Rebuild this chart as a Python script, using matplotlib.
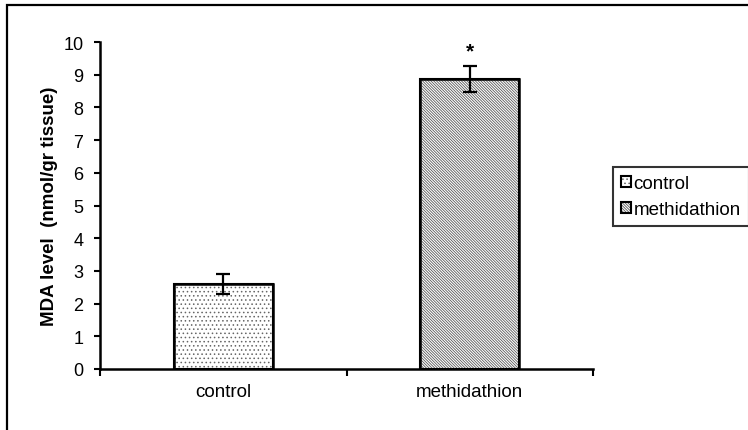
import matplotlib.pyplot as plt
from matplotlib.patches import Rectangle

plt.rcParams['font.family'] = ['Liberation Sans', 'DejaVu Sans']
plt.rcParams['hatch.linewidth'] = 0.6

categories = ['control', 'methidathion']
mda_values = [2.6, 8.87]
mda_errors = [0.3, 0.4]
significance = ['', '*']

fig = plt.figure(figsize=(7.48, 4.31), dpi=100)
ax = fig.add_axes([100 / 748, 1 - 370 / 431, 493 / 748, 327 / 431])

# cadre autour de la figure (coupé à droite et en bas)
fig.patches.append(Rectangle((7 / 748, -0.2), 1.2, 1 - 6 / 431 + 0.2, transform=fig.transFigure,
                             fill=False, edgecolor='black', linewidth=1.6))

x = [0.5, 1.5]
hatches = ['....', '\\' * 12]
hatch_colors = [(0.4, 0.4, 0.4, 1.0), (0.35, 0.35, 0.35, 1.0)]
for i in range(len(categories)):
    b = ax.bar(x[i], mda_values[i], width=0.4, color='white', edgecolor='black',
               linewidth=1.5, hatch=hatches[i], label=categories[i], zorder=2)
    b[0]._hatch_color = hatch_colors[i]
    ax.bar(x[i], mda_values[i], width=0.4, fill=False, edgecolor='black',
           linewidth=1.8, zorder=3)
    ax.errorbar(x[i], mda_values[i], yerr=mda_errors[i], fmt='none', ecolor='black',
                elinewidth=1.6, capsize=5, capthick=1.6, zorder=4)
    if significance[i]:
        ax.text(x[i], mda_values[i] + mda_errors[i] + 0.45, significance[i],
                ha='center', va='center', fontsize=15, fontweight='bold')

ax.set_xlim(0, 2)
ax.set_ylim(0, 10)
ax.set_yticks(range(0, 11))
ax.tick_params(axis='y', labelsize=13, width=1.5, length=4, direction='out', pad=8)
ax.set_xticks([0, 1, 2])
ax.set_xticklabels([])
ax.set_xticks(x, minor=True)
ax.set_xticklabels(categories, minor=True)
ax.tick_params(axis='x', which='major', width=1.5, length=5, direction='out')
ax.tick_params(axis='x', which='minor', length=0, labelsize=13.5, pad=10)
for s in ['top', 'right']:
    ax.spines[s].set_visible(False)
for s in ['left', 'bottom']:
    ax.spines[s].set_linewidth(1.8)

ax.set_ylabel('MDA level  (nmol/gr tissue)', fontsize=13.5, fontweight='bold', labelpad=4)

handles, labels = ax.get_legend_handles_labels()
leg = fig.legend(handles, labels, loc='upper left', bbox_to_anchor=(613 / 748, 1 - 168 / 431),
                 fontsize=13.5, frameon=True, fancybox=False, edgecolor='black',
                 handlelength=0.5, handleheight=0.5, handletextpad=0.15, borderpad=0.45,
                 labelspacing=0.45, borderaxespad=0)
leg.get_frame().set_linewidth(1.5)

fig.savefig('out.png', dpi=100)
